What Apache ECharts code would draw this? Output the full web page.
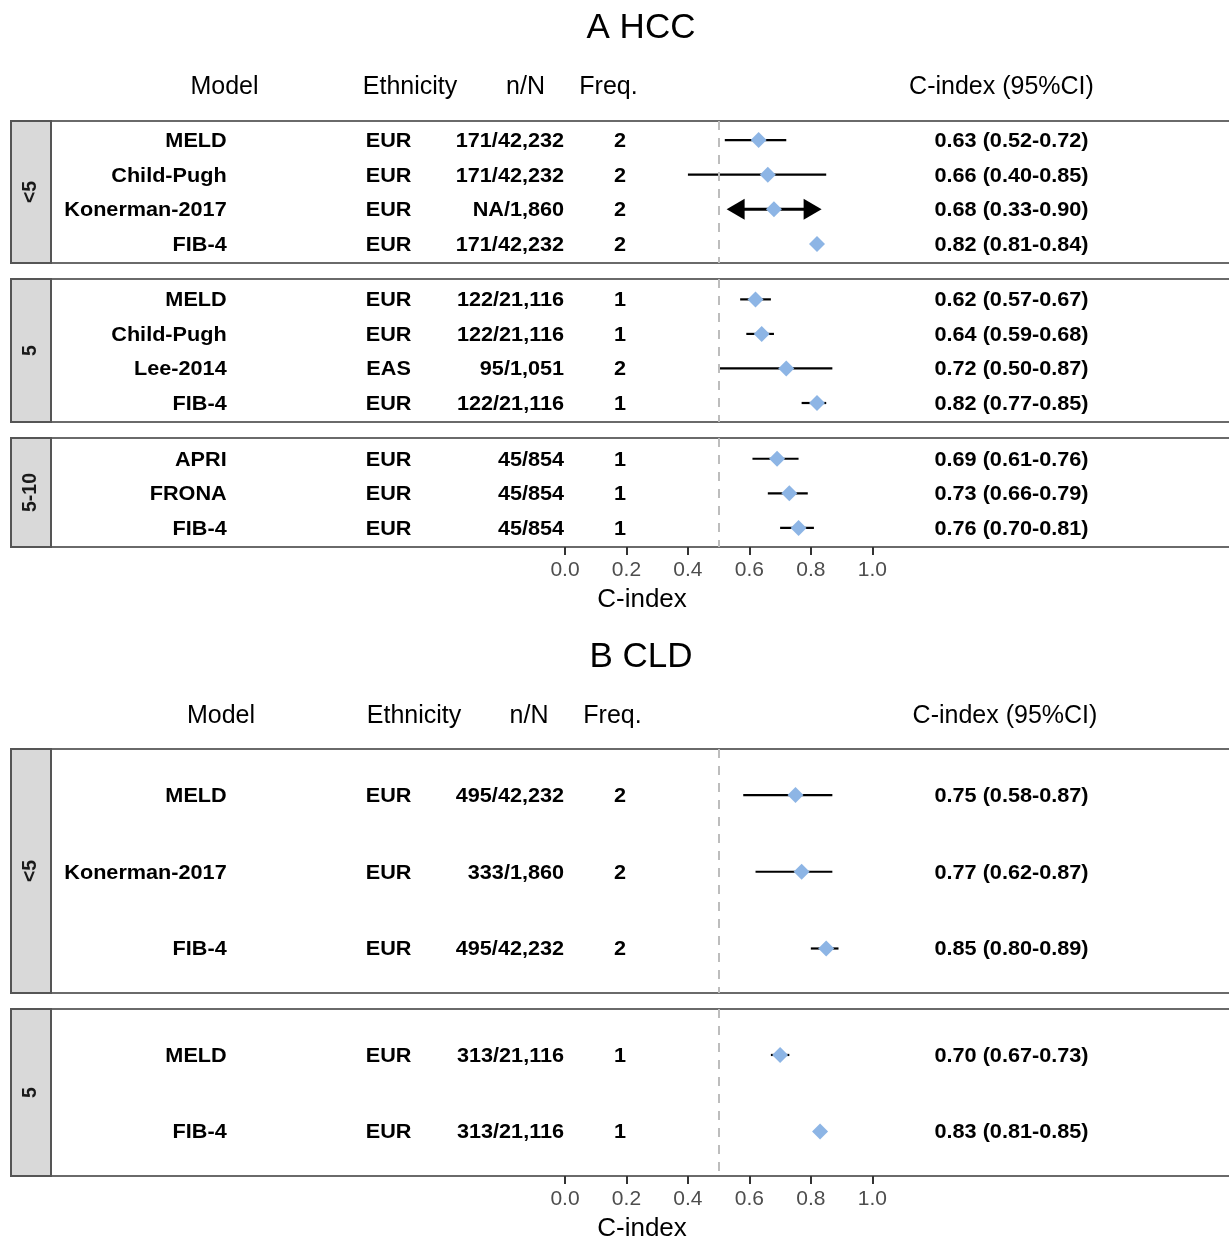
<!DOCTYPE html>
<html>
<head>
<meta charset="utf-8">
<script src="https://cdn.jsdelivr.net/npm/echarts@6/dist/echarts.min.js"></script>
<style>html,body{margin:0;padding:0;background:#fff;}#c{width:1229px;height:1241px;}</style>
</head>
<body>
<div id="c"></div>
<script>
// ---------------- DATA ----------------
const tickValues = [0, 0.2, 0.4, 0.6, 0.8, 1.0];
const tickLabels = ['0.0', '0.2', '0.4', '0.6', '0.8', '1.0'];
const refLine = 0.5;

// Panel A: HCC
const hccGroups    = ['<5', '5', '5-10'];
const hccGroupOf   = [0, 0, 0, 0, 1, 1, 1, 1, 2, 2, 2];
const hccModel     = ['MELD', 'Child-Pugh', 'Konerman-2017', 'FIB-4', 'MELD', 'Child-Pugh', 'Lee-2014', 'FIB-4', 'APRI', 'FRONA', 'FIB-4'];
const hccEthnicity = ['EUR', 'EUR', 'EUR', 'EUR', 'EUR', 'EUR', 'EAS', 'EUR', 'EUR', 'EUR', 'EUR'];
const hccN         = ['171/42,232', '171/42,232', 'NA/1,860', '171/42,232', '122/21,116', '122/21,116', '95/1,051', '122/21,116', '45/854', '45/854', '45/854'];
const hccFreq      = ['2', '2', '2', '2', '1', '1', '2', '1', '1', '1', '1'];
const hccEst       = [0.63, 0.66, 0.68, 0.82, 0.62, 0.64, 0.72, 0.82, 0.69, 0.73, 0.76];
const hccLo        = [0.52, 0.40, 0.33, 0.81, 0.57, 0.59, 0.50, 0.77, 0.61, 0.66, 0.70];
const hccHi        = [0.72, 0.85, 0.90, 0.84, 0.67, 0.68, 0.87, 0.85, 0.76, 0.79, 0.81];
const hccArrowIdx  = [2];
const hccArrowLo   = [0.526];
const hccArrowHi   = [0.835];

// Panel B: CLD
const cldGroups    = ['<5', '5'];
const cldGroupOf   = [0, 0, 0, 1, 1];
const cldModel     = ['MELD', 'Konerman-2017', 'FIB-4', 'MELD', 'FIB-4'];
const cldEthnicity = ['EUR', 'EUR', 'EUR', 'EUR', 'EUR'];
const cldN         = ['495/42,232', '333/1,860', '495/42,232', '313/21,116', '313/21,116'];
const cldFreq      = ['2', '2', '2', '1', '1'];
const cldEst       = [0.75, 0.77, 0.85, 0.70, 0.83];
const cldLo        = [0.58, 0.62, 0.80, 0.67, 0.81];
const cldHi        = [0.87, 0.87, 0.89, 0.73, 0.85];
const cldArrowIdx  = [];
const cldArrowLo   = [];
const cldArrowHi   = [];

const headers = ['Model', 'Ethnicity', 'n/N', 'Freq.', 'C-index (95%CI)'];
const titles = ['A HCC', 'B CLD'];
const axisTitle = 'C-index';

// ---------------- LAYOUT / STYLE ----------------
const FF = '"Liberation Sans", Arial, Helvetica, sans-serif';
const XMIN = -1.6727, XMAX = 2.1738;
const colX = { model: -1.101, eth: -0.574, n: -0.003, freq: 0.179, ci: 1.453 };
const SX = 1.11;
const BODY_FS = 19.5;
const TEXT_DY = 1.5;
const DIAMOND = '#8DB5E5';

const panelDefs = [
  { data: 'hcc', group: 0, top: 121, height: 142, expTop: 0.55, expBot: 0.55, bottom: false },
  { data: 'hcc', group: 1, top: 279, height: 143, expTop: 0.59, expBot: 0.55, bottom: false },
  { data: 'hcc', group: 2, top: 438, height: 109, expTop: 0.6, expBot: 0.55, bottom: true },
  { data: 'cld', group: 0, top: 749, height: 244, expTop: 0.6, expBot: 0.58, bottom: false },
  { data: 'cld', group: 1, top: 1009, height: 167, expTop: 0.6, expBot: 0.58, bottom: true }
];
const sets = {
  hcc: { groups: hccGroups, groupOf: hccGroupOf, model: hccModel, eth: hccEthnicity, n: hccN, freq: hccFreq, est: hccEst, lo: hccLo, hi: hccHi, aIdx: hccArrowIdx, aLo: hccArrowLo, aHi: hccArrowHi },
  cld: { groups: cldGroups, groupOf: cldGroupOf, model: cldModel, eth: cldEthnicity, n: cldN, freq: cldFreq, est: cldEst, lo: cldLo, hi: cldHi, aIdx: cldArrowIdx, aLo: cldArrowLo, aHi: cldArrowHi }
};

function txt(x, y, s, align) {
  return { type: 'text', x: x, y: y + TEXT_DY, scaleX: SX,
    style: { text: s, fontSize: BODY_FS, fontWeight: 'bold', fontFamily: FF, fill: '#000', align: align, verticalAlign: 'middle' } };
}

const grids = [], xAxes = [], yAxes = [], series = [], graphics = [];

panelDefs.forEach(function (p, gi) {
  const S = sets[p.data];
  const idx = [];
  S.groupOf.forEach(function (g, i) { if (g === p.group) idx.push(i); });
  const n = idx.length;

  grids.push({ left: 51, width: 1182, top: p.top, height: p.height, show: true,
    outerBoundsMode: 'none', containLabel: false,
    backgroundColor: '#fff', borderColor: '#6a6a6a', borderWidth: 2 });

  xAxes.push({ gridIndex: gi, type: 'value', min: XMIN, max: XMAX,
    axisLine: { show: false }, splitLine: { show: false },
    axisTick: { show: p.bottom, customValues: tickValues, length: 8, lineStyle: { color: '#333', width: 2 } },
    axisLabel: { show: p.bottom, customValues: tickValues, margin: 13, fontSize: 21, fontFamily: FF, color: '#4D4D4D',
      formatter: function (v) { const k = tickValues.findIndex(function (t) { return Math.abs(t - v) < 1e-6; }); return k >= 0 ? tickLabels[k] : ''; } },
    name: p.bottom ? axisTitle : '', nameLocation: 'middle', nameGap: 40,
    nameTextStyle: { fontSize: 26, fontFamily: FF, color: '#000' } });

  yAxes.push({ gridIndex: gi, type: 'value', min: 1 - p.expTop, max: n + p.expBot, inverse: true, show: false,
    splitLine: { show: false } });

  // text columns
  series.push({ type: 'custom', xAxisIndex: gi, yAxisIndex: gi, z: 2, silent: true, clip: false,
    data: idx.map(function (i, r) { return [0, r + 1, i]; }),
    renderItem: function (params, api) {
      const i = api.value(2), row = api.value(1);
      const y = api.coord([0, row])[1];
      const cx = function (v) { return api.coord([v, row])[0]; };
      const ci = S.est[i].toFixed(2) + ' (' + S.lo[i].toFixed(2) + '-' + S.hi[i].toFixed(2) + ')';
      return { type: 'group', children: [
        txt(cx(colX.model), y, S.model[i], 'right'),
        txt(cx(colX.eth), y, S.eth[i], 'center'),
        txt(cx(colX.n), y, S.n[i], 'right'),
        txt(cx(colX.freq), y, S.freq[i], 'center'),
        txt(cx(colX.ci), y, ci, 'center')
      ] };
    } });

  // CI lines / arrows
  series.push({ type: 'custom', xAxisIndex: gi, yAxisIndex: gi, z: 3, silent: true, clip: false,
    data: idx.map(function (i, r) {
      const a = S.aIdx.indexOf(i);
      return a >= 0 ? [S.aLo[a], S.aHi[a], r + 1, 1] : [S.lo[i], S.hi[i], r + 1, 0];
    }),
    encode: { x: [0, 1], y: 2 },
    renderItem: function (params, api) {
      const row = api.value(2), arrow = api.value(3);
      const p1 = api.coord([api.value(0), row]), p2 = api.coord([api.value(1), row]);
      if (!arrow) {
        return { type: 'line', shape: { x1: p1[0], y1: p1[1], x2: p2[0], y2: p2[1] }, style: { stroke: '#000', lineWidth: 2.2 } };
      }
      const L = 18, H = 10.5;
      return { type: 'group', children: [
        { type: 'line', shape: { x1: p1[0] + 4, y1: p1[1], x2: p2[0] - 4, y2: p2[1] }, style: { stroke: '#000', lineWidth: 3 } },
        { type: 'polygon', shape: { points: [[p1[0], p1[1]], [p1[0] + L, p1[1] - H], [p1[0] + L, p1[1] + H]] }, style: { fill: '#000' } },
        { type: 'polygon', shape: { points: [[p2[0], p2[1]], [p2[0] - L, p2[1] - H], [p2[0] - L, p2[1] + H]] }, style: { fill: '#000' } }
      ] };
    } });

  // point estimates
  series.push({ type: 'scatter', xAxisIndex: gi, yAxisIndex: gi, z: 4, silent: true,
    symbol: 'diamond', symbolSize: 16, itemStyle: { color: DIAMOND, opacity: 1 },
    data: idx.map(function (i, r) { return [S.est[i], r + 1]; }),
    markLine: { silent: true, symbol: 'none', label: { show: false }, animation: false,
      lineStyle: { color: '#BDBDBD', width: 2, type: [9, 8] },
      data: [{ xAxis: refLine }] } });

  // strip
  graphics.push({ type: 'rect', shape: { x: 11, y: p.top, width: 40, height: p.height },
    style: { fill: '#D9D9D9', stroke: '#555', lineWidth: 2 }, z: 10 });
  graphics.push({ type: 'text', x: 31, y: p.top + p.height / 2, rotation: Math.PI / 2, z: 11,
    style: { text: S.groups[p.group], fontSize: 19.5, fontWeight: 'bold', fontFamily: FF, fill: '#1a1a1a', align: 'center', verticalAlign: 'middle' } });
});

// titles and column headers
const titleY = [28, 657];
const headerY = [87, 716];
const headerX = [[224.5, 410, 525.5, 608.5, 1001.5], [221, 414, 529, 612.5, 1005]];
titles.forEach(function (t, k) {
  graphics.push({ type: 'text', x: 641, y: titleY[k], z: 11,
    style: { text: t, fontSize: 35, fontFamily: FF, fill: '#000', align: 'center', verticalAlign: 'middle' } });
  headers.forEach(function (h, j) {
    graphics.push({ type: 'text', x: headerX[k][j], y: headerY[k], z: 11,
      style: { text: h, fontSize: 25, fontFamily: FF, fill: '#000', align: 'center', verticalAlign: 'middle' } });
  });
});

const chart = echarts.init(document.getElementById('c'), null, { renderer: 'canvas' });
chart.setOption({
  animation: false,
  backgroundColor: '#fff',
  grid: grids, xAxis: xAxes, yAxis: yAxes, series: series, graphic: graphics
});
</script>
</body>
</html>
